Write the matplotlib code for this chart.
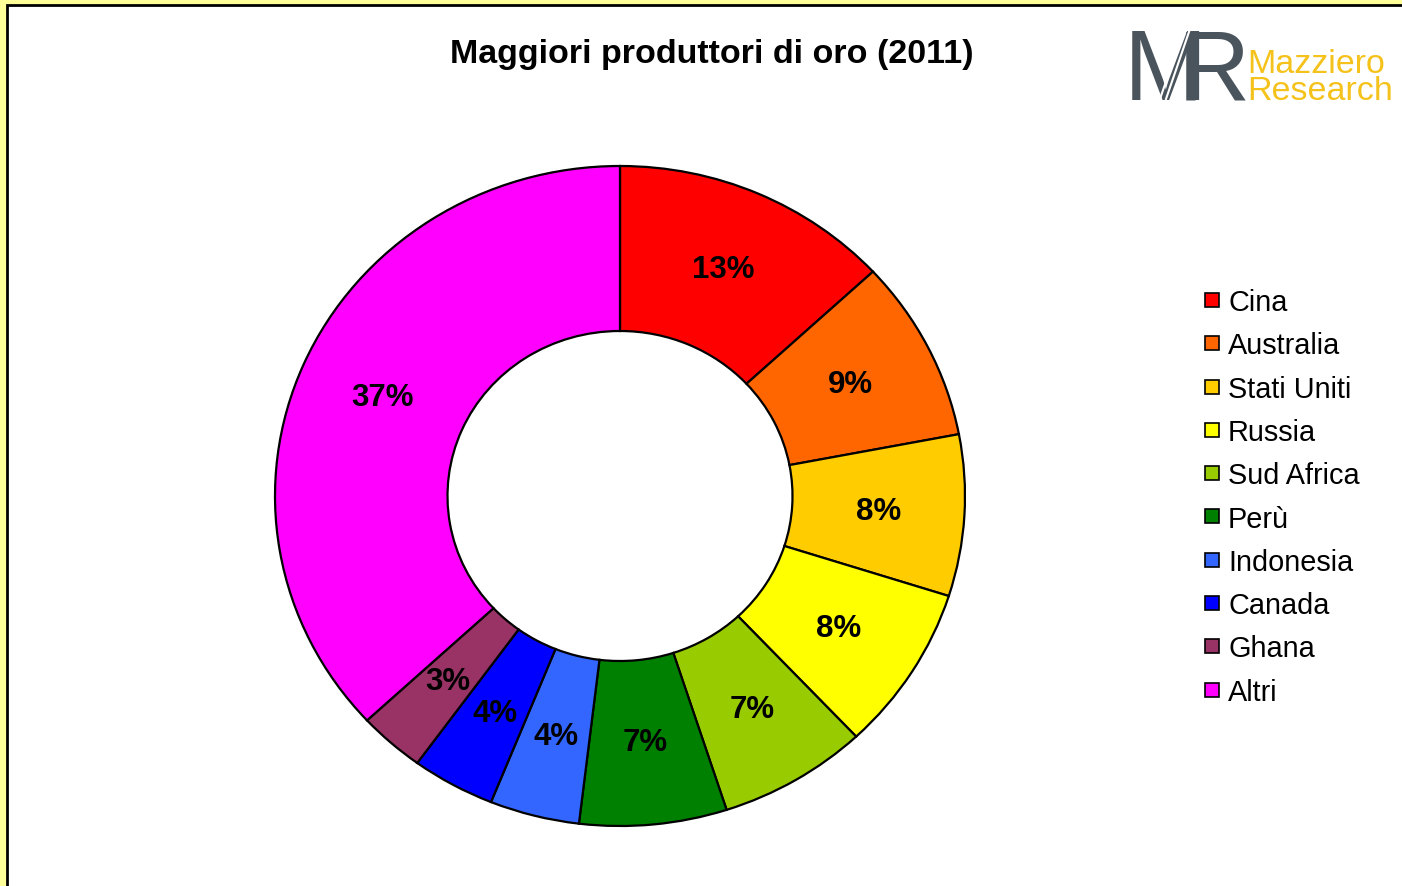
import matplotlib
matplotlib.use("Agg")
import matplotlib.pyplot as plt
from matplotlib.patches import Rectangle
from matplotlib.lines import Line2D

plt.rcParams['font.family'] = ['Liberation Sans', 'DejaVu Sans']

categories = ["Cina", "Australia", "Stati Uniti", "Russia", "Sud Africa",
              "Perù", "Indonesia", "Canada", "Ghana", "Altri"]
values = [13.1, 8.9, 7.9, 8.1, 7.0, 6.9, 4.2, 3.9, 3.1, 36.9]
colors = ["#FF0000", "#FF6600", "#FFCC00", "#FFFF00", "#99CC00",
          "#008000", "#3366FF", "#0000FF", "#993366", "#FF00FF"]
title = "Maggiori produttori di oro (2011)"

W, H = 1402, 887
fig = plt.figure(figsize=(W / 100, H / 100), dpi=100, facecolor="#FFFF99")

# white panel with black left/top border
panel = Rectangle((7 / W, -0.05), 1.1, (H - 6) / H + 0.05, transform=fig.transFigure,
                  facecolor="white", edgecolor="black", linewidth=2, zorder=-5)
fig.patches.append(panel)

ax = fig.add_axes([275 / W, 60 / H, 690 / W, 660 / H])
ax.set_zorder(1)
wedges, texts, autotexts = ax.pie(
    values, colors=colors, startangle=90, counterclock=False, radius=1,
    autopct="%.0f%%", pctdistance=0.75,
    wedgeprops=dict(width=0.5, edgecolor="black", linewidth=1.6),
    textprops=dict(fontsize=22.5, fontweight="bold", color="black"))
ax.set_aspect("auto")
ax.set_xlim(-1, 1)
ax.set_ylim(-1, 1)

fig.text(712 / W, 1 - 55 / H, title, ha="center", va="center",
         fontsize=24.5, fontweight="bold")

handles = [Line2D([], [], linestyle="none", marker="s", markersize=10,
                  markerfacecolor=c, markeredgecolor="black", markeredgewidth=1.2)
           for c in colors]
fig.legend(handles, categories, loc="upper left",
           bbox_to_anchor=(1205 / W, 1 - 289 / H), frameon=False,
           fontsize=20.8, handlelength=0.5, handletextpad=0.3,
           labelspacing=0.53, borderpad=0, borderaxespad=0)

# logo
fig.text(1124 / W, 1 - 100 / H, "M", fontsize=72, color="#4A545C",
         ha="left", va="baseline")
fig.text(1178 / W, 1 - 100 / H, "R", fontsize=72, color="#4A545C",
         ha="left", va="baseline")
for dx in (0, 6):
    fig.add_artist(Line2D([(1160 + dx) / W, (1184 + dx) / W],
                          [1 - 100 / H, 1 - 30 / H], color="white", lw=1.5,
                          transform=fig.transFigure, zorder=6))
fig.text(1247 / W, 1 - 73 / H, "Mazziero", fontsize=24.5, color="#F5C21B",
         ha="left", va="baseline")
fig.text(1247 / W, 1 - 100 / H, "Research", fontsize=24.5, color="#F5C21B",
         ha="left", va="baseline")

fig.savefig("out.png", dpi=100, facecolor=fig.get_facecolor())
